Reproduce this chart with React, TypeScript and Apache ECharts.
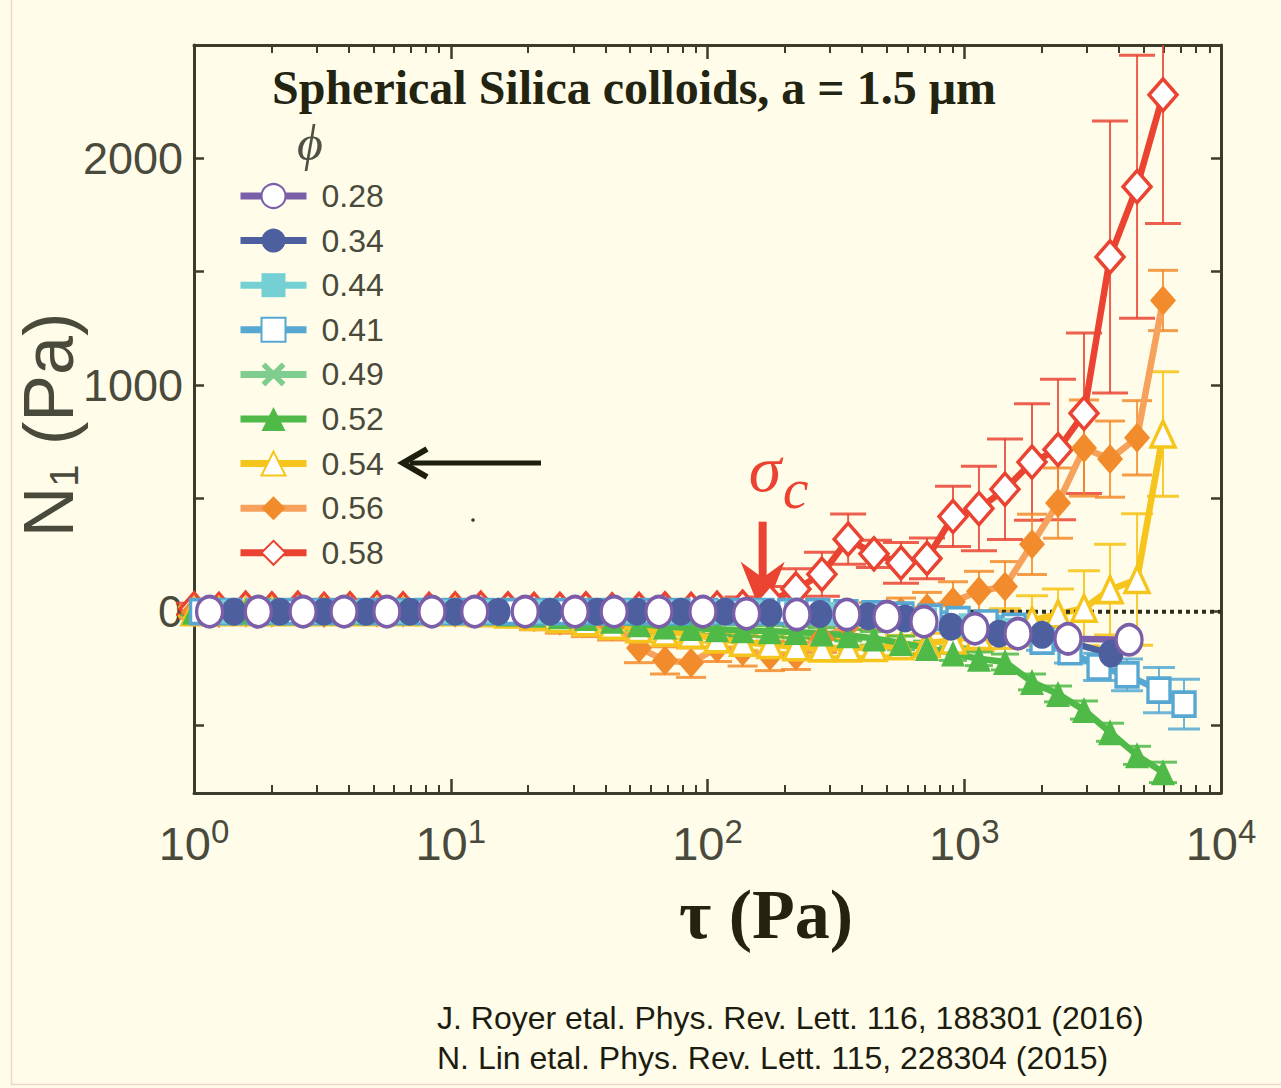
import React, { useEffect, useRef } from "react";
import * as echarts from "echarts";

// Shear stress (Pa) of the fine sweep used for phi = 0.52 ... 0.58
const stressFine = [1.0, 1.25, 1.59, 2.01, 2.54, 3.21, 4.05, 5.16, 6.52, 8.23, 10.4, 13.1, 16.7, 21.1, 26.6, 33.6, 42.5, 54.1, 68.3, 86.3, 109, 137, 175, 221, 279, 353, 445, 567, 716, 904, 1141, 1441, 1836, 2319, 2927, 3697, 4710, 5945];

// phi = 0.58 (open diamonds)
const n58 = [12, 10, 15, 12, 15, 10, 12, 15, 12, 10, 12, 15, 12, 10, 10, 12, 8, 10, 12, 10, 15, 20, 45, 100, 165, 320, 255, 215, 235, 420, 455, 540, 660, 715, 875, 1565, 1875, 2280];
const e58 = [25, 25, 25, 25, 25, 25, 25, 25, 30, 30, 30, 30, 30, 30, 35, 35, 35, 35, 35, 40, 40, 45, 66, 89, 97, 111, 60, 90, 90, 133, 186, 222, 257, 310, 354, 600, 580, 567];

// phi = 0.56 (filled diamonds)
const n56 = [0, 0, -5, 0, -5, 0, -5, -5, 0, -5, -5, -5, -10, -25, -40, -50, -65, -160, -215, -225, -160, -175, -195, -195, -120, -60, -20, 0, 15, 44, 90, 111, 297, 479, 722, 673, 767, 1373];
const e56 = [30, 30, 30, 35, 30, 35, 35, 40, 35, 40, 45, 45, 50, 55, 55, 60, 60, 65, 60, 65, 60, 65, 65, 60, 60, 60, 60, 60, 70, 88, 88, 110, 133, 155, 212, 168, 164, 133];

// phi = 0.54 (open triangles)
const n54 = [0, 0, 0, 0, 0, 0, 0, 0, 0, 0, 0, -5, -10, -20, -30, -45, -60, -75, -90, -100, -120, -135, -145, -155, -160, -160, -158, -150, -140, -125, -105, -75, -40, -10, 15, 97, 142, 784];
const e54 = [20, 20, 20, 20, 20, 20, 20, 20, 20, 20, 20, 25, 25, 25, 25, 30, 30, 30, 30, 35, 35, 35, 35, 40, 40, 40, 40, 45, 45, 55, 66, 88, 110, 110, 165, 200, 290, 275];

// phi = 0.52 (filled triangles)
const n52 = [0, 0, 0, 0, 0, 0, 0, 0, 0, 0, 0, -3, -8, -14, -20, -28, -40, -55, -65, -72, -78, -82, -86, -90, -96, -104, -118, -138, -160, -185, -208, -222, -310, -363, -434, -532, -634, -709];
const e52 = [15, 15, 15, 15, 15, 15, 15, 15, 15, 15, 15, 20, 20, 20, 20, 25, 25, 25, 25, 25, 25, 25, 25, 25, 25, 25, 30, 30, 30, 30, 30, 35, 35, 35, 40, 40, 40, 45];

// phi = 0.49 (crosses)
const tau49 = [1.2, 1.85, 2.75, 4.0, 5.8, 8.7, 12.8, 20.1, 31.4, 44.6, 66.6, 98.9, 146, 230, 360];
const n49 = [0, 0, 0, 0, 0, 0, 0, 0, 0, -3, -6, -10, -15, -20, -25];

// phi = 0.41 (open squares)
const tau41 = [1.07, 1.38, 1.78, 2.28, 2.93, 3.77, 4.85, 6.23, 8.01, 10.3, 13.2, 17.0, 21.9, 28.1, 36.1, 46.4, 59.7, 76.7, 98.6, 127, 163, 209, 269, 346, 445, 572, 736, 946, 1216, 1563, 2009, 2582, 3350, 4305, 5733, 7178];
const n41 = [0, 0, 0, 0, 0, 0, 0, 0, 0, 0, 0, 0, 0, 0, 0, 0, 0, 0, 0, 0, 0, 0, 0, -5, -10, -15, -25, -35, -50, -65, -130, -177, -244, -279, -346, -408];
const e41 = [15, 15, 15, 15, 15, 15, 15, 15, 15, 15, 15, 15, 15, 15, 15, 15, 15, 15, 15, 15, 15, 15, 15, 15, 20, 20, 25, 30, 30, 35, 40, 50, 60, 70, 100, 110];

// phi = 0.44 (filled squares)
const tau44 = [1.3, 2.0, 3.0, 4.4, 6.5, 9.6, 14.2, 21.0, 31.0, 46.0, 68.0, 100, 148, 219, 324, 480, 710, 1050, 1550];
const n44 = [0, 0, 0, 0, 0, 0, 0, 0, 0, 0, 0, 0, 0, -5, -10, -20, -35, -60, -80];

// phi = 0.34 (filled circles)
const tau34 = [1.43, 2.16, 3.21, 4.68, 6.94, 10.4, 15.3, 24.4, 37.1, 53.1, 78.9, 117, 175, 274, 422, 588, 888, 1366, 2009, 3729];
const n34 = [0, 0, 0, 0, 0, 0, 0, 0, 0, 0, 0, 0, -5, -10, -20, -30, -66, -97, -102, -185];

// phi = 0.28 (open circles)
const tau28 = [1.15, 1.78, 2.66, 3.84, 5.64, 8.45, 12.4, 19.5, 30.5, 43.3, 64.7, 96.0, 142, 223, 349, 500, 697, 1101, 1619, 2535, 4385];
const n28 = [0, 0, 0, 0, 0, 0, 0, 0, 0, 0, 0, 0, -9, -13, -13, -22, -44, -75, -97, -120, -124];

const legendOrder = ["0.28", "0.34", "0.44", "0.41", "0.49", "0.52", "0.54", "0.56", "0.58"];
const xMajorLabels = [1, 10, 100, 1000, 10000];
const xMinorTicks = [2, 3, 4, 5, 6, 7, 8, 9, 20, 30, 40, 50, 60, 70, 80, 90, 200, 300, 400, 500, 600, 700, 800, 900, 2000, 3000, 4000, 5000, 6000, 7000, 8000, 9000];
const yLabelValues = [0, 1000, 2000];
const yTickValues = [-500, 0, 500, 1000, 1500, 2000];
const Y_MIN = -800;
const Y_MAX = 2500;
const sigmaC = 164; // onset stress marked with the arrow

const purple = "#7b5ea8";
const navy = "#4d5f9f";
const cyan = "#74d0d2";
const sky = "#56a8d2";
const mint = "#80cd90";
const green = "#4fba48";
const yellow = "#f6c51d";
const orange = "#f28b2b";
const orangeLine = "#f6a25c";
const red = "#ea4332";
const ink = "#4a4a3c";
const axisInk = "#3c3c2c";
const bg = "#fffde9";

const CROSS = "path://M0,1.6L1.6,0L5,3.4L8.4,0L10,1.6L6.6,5L10,8.4L8.4,10L5,6.6L1.6,10L0,8.4L3.4,5Z";

function lineSeries(name: string, tau: number[], n: number[], color: string, lineColor: string, symbol: string, size: number | number[], open: boolean) {
  return {
    name,
    type: "line",
    xAxisIndex: 0,
    yAxisIndex: 0,
    data: tau.map((t, i) => [t, n[i]]),
    symbol,
    symbolSize: size,
    lineStyle: { color: lineColor, width: 6.5 },
    itemStyle: open
      ? { color: "#ffffff", borderColor: color, borderWidth: 3.5 }
      : { color, borderWidth: 0 },
    emphasis: { disabled: true },
  };
}

function errorBars(color: string, capHalf: number, tau: number[], n: number[], err: number[]) {
  return {
    type: "custom",
    xAxisIndex: 0,
    yAxisIndex: 0,
    silent: true,
    data: tau.map((t, i) => [t, n[i] - err[i], n[i] + err[i]]),
    encode: { x: 0, y: [1, 2] },
    renderItem: (_p: any, api: any) => {
      const t = api.value(0);
      const lo = api.value(1);
      const hi = api.value(2);
      const a = api.coord([t, Math.min(hi, Y_MAX)]);
      const b = api.coord([t, Math.max(lo, Y_MIN)]);
      const kids: any[] = [
        { type: "line", shape: { x1: a[0], y1: a[1], x2: b[0], y2: b[1] }, style: { stroke: color, lineWidth: 2 } },
      ];
      if (hi <= Y_MAX) kids.push({ type: "line", shape: { x1: a[0] - capHalf, y1: a[1], x2: a[0] + capHalf, y2: a[1] }, style: { stroke: color, lineWidth: 3 } });
      if (lo >= Y_MIN) kids.push({ type: "line", shape: { x1: b[0] - capHalf, y1: b[1], x2: b[0] + capHalf, y2: b[1] }, style: { stroke: color, lineWidth: 3 } });
      return { type: "group", children: kids };
    },
  };
}

const sans = "'Liberation Sans', Arial, sans-serif";
const serif = "'Liberation Serif', 'Times New Roman', serif";

function buildOption() {
  const gridBox = { left: 194, top: 45, width: 1027, height: 748 };
  const logAxis = { type: "log", logBase: 10, min: 1, max: 10000, splitLine: { show: false } };
  const valAxis = { type: "value", min: Y_MIN, max: Y_MAX, splitLine: { show: false } };
  const line = { show: true, onZero: false, lineStyle: { color: axisInk, width: 3 } };
  const noLine = { show: false, onZero: false };
  return {
    animation: false,
    backgroundColor: bg,
    title: {
      text: "Spherical Silica colloids, a = 1.5 \u03bcm",
      left: 272,
      top: 63,
      padding: 0,
      textStyle: { fontFamily: serif, fontWeight: "bold", fontSize: 48, color: "#232312" },
    },
    legend: {
      data: legendOrder,
      orient: "vertical",
      left: 237,
      top: 180,
      padding: 0,
      itemWidth: 66,
      itemHeight: 30,
      itemGap: 12.6,
      selectedMode: false,
      lineStyle: { width: 7 },
      textStyle: { fontFamily: sans, fontSize: 32, color: ink, padding: [0, 0, 0, 10] },
    },
    grid: [gridBox, gridBox],
    xAxis: [
      {
        ...logAxis, gridIndex: 0, position: "bottom", axisLine: line,
        axisTick: { show: true, inside: true, length: 8, customValues: xMinorTicks, lineStyle: { color: axisInk, width: 2 } },
        axisLabel: {
          show: true, margin: 22, customValues: xMajorLabels,
          formatter: (v: number) => `{b|10}{s|${Math.round(Math.log10(v))}}`,
          rich: {
            b: { fontFamily: sans, fontSize: 47, color: ink, lineHeight: 52, verticalAlign: "bottom" },
            s: { fontFamily: sans, fontSize: 33, color: ink, lineHeight: 42, verticalAlign: "top" },
          },
        },
      },
      {
        ...logAxis, gridIndex: 0, position: "top", axisLine: line,
        axisTick: { show: true, inside: true, length: 8, customValues: xMinorTicks, lineStyle: { color: axisInk, width: 2 } },
        axisLabel: { show: false },
      },
      {
        ...logAxis, gridIndex: 1, position: "bottom", axisLine: noLine,
        axisTick: { show: true, inside: true, length: 14, customValues: xMajorLabels, lineStyle: { color: axisInk, width: 2.5 } },
        axisLabel: { show: false },
      },
      {
        ...logAxis, gridIndex: 1, position: "top", axisLine: noLine,
        axisTick: { show: true, inside: true, length: 14, customValues: xMajorLabels, lineStyle: { color: axisInk, width: 2.5 } },
        axisLabel: { show: false },
      },
    ],
    yAxis: [
      {
        ...valAxis, gridIndex: 0, position: "left", axisLine: line,
        axisTick: { show: true, inside: true, length: 10, customValues: yTickValues, lineStyle: { color: axisInk, width: 2.5 } },
        axisLabel: { show: true, margin: 11, customValues: yLabelValues, formatter: (v: number) => String(v), fontFamily: sans, fontSize: 45, color: ink },
      },
      {
        ...valAxis, gridIndex: 0, position: "right", axisLine: line,
        axisTick: { show: true, inside: true, length: 10, customValues: yTickValues, lineStyle: { color: axisInk, width: 2.5 } },
        axisLabel: { show: false },
      },
      { ...valAxis, gridIndex: 1, show: false, axisLine: noLine },
    ],
    series: [
      errorBars("rgba(234,67,50,0.85)", 18, stressFine, n58, e58),
      lineSeries("0.58", stressFine, n58, red, red, "diamond", [28, 32], true),
      errorBars("rgba(242,139,43,0.85)", 15, stressFine, n56, e56),
      lineSeries("0.56", stressFine, n56, orange, orangeLine, "diamond", [26, 30], false),
      errorBars("rgba(246,197,29,0.9)", 16, stressFine, n54, e54),
      lineSeries("0.54", stressFine, n54, yellow, yellow, "triangle", [24, 26], true),
      {
        type: "line", xAxisIndex: 0, yAxisIndex: 0, silent: true, symbol: "none",
        data: [[1, 0], [10000, 0]],
        lineStyle: { color: "#2d2d20", width: 4, type: [4, 4] },
      },
      errorBars("rgba(79,186,72,0.85)", 14, stressFine, n52, e52),
      lineSeries("0.52", stressFine, n52, green, green, "triangle", [24, 26], false),
      lineSeries("0.49", tau49, n49, mint, mint, CROSS, 18, false),
      errorBars("rgba(86,168,210,0.85)", 16, tau41, n41, e41),
      lineSeries("0.41", tau41, n41, sky, sky, "rect", [22, 24], true),
      lineSeries("0.44", tau44, n44, cyan, cyan, "rect", [22, 24], false),
      lineSeries("0.34", tau34, n34, navy, navy, "circle", [25, 28], false),
      lineSeries("0.28", tau28, n28, purple, purple, "circle", [26, 30], true),
    ],
  };
}

export default function App() {
  const ref = useRef<HTMLDivElement>(null);
  useEffect(() => {
    if (!ref.current) return;
    const chart = echarts.init(ref.current, undefined, { renderer: "svg" });
    chart.setOption(buildOption() as any);
    const tip = chart.convertToPixel({ xAxisIndex: 0, yAxisIndex: 0 }, [sigmaC, 0]) as number[];
    const tx = tip[0];
    const ty = tip[1];
    const graphic: any[] = [
      { type: "rect", silent: true, shape: { x: 11.5, y: -5, width: 1275, height: 1089.5 }, style: { fill: "none", stroke: "#f1d5cd", lineWidth: 1.5 } },
      { type: "text", x: 297, y: 143, style: { text: "\u03d5", fontFamily: serif, fontStyle: "italic", fontSize: 50, fill: "#505044", align: "left", verticalAlign: "middle" } },
      // arrow pointing at the 0.54 entry
      { type: "line", shape: { x1: 410, y1: 463, x2: 541, y2: 463 }, style: { stroke: "#1e1e0e", lineWidth: 5 } },
      { type: "polyline", shape: { points: [[427, 449], [403, 463], [427, 477]] }, style: { stroke: "#1e1e0e", lineWidth: 6, fill: "none", lineJoin: "miter" } },
      { type: "circle", shape: { cx: 473, cy: 520, r: 1.8 }, style: { fill: "#3a3a2a" } },
      // onset stress marker
      { type: "rect", shape: { x: tx - 4, y: ty - 90, width: 8, height: 58 }, style: { fill: red } },
      { type: "polygon", shape: { points: [[tx, ty + 5], [tx - 22, ty - 50], [tx, ty - 34], [tx + 22, ty - 50]] }, style: { fill: red } },
      { type: "text", x: tx - 14, y: ty - 143, style: { text: "\u03c3", fontFamily: serif, fontStyle: "italic", fontSize: 66, fill: red, align: "left", verticalAlign: "middle" } },
      { type: "text", x: tx + 20, y: ty - 123, style: { text: "c", fontFamily: serif, fontStyle: "italic", fontSize: 58, fill: red, align: "left", verticalAlign: "middle" } },
      // axis titles
      { type: "text", x: 766, y: 914, style: { text: "\u03c4 (Pa)", fontFamily: serif, fontWeight: "bold", fontSize: 70, fill: "#23230f", align: "center", verticalAlign: "middle" } },
      {
        type: "text", x: 46, y: 425, rotation: Math.PI / 2,
        style: {
          text: "{n|N}{s|1}{n| (Pa)}", align: "center", verticalAlign: "middle",
          rich: {
            n: { fontFamily: sans, fontSize: 70, fill: ink, lineHeight: 76, verticalAlign: "bottom" },
            s: { fontFamily: sans, fontSize: 40, fill: ink, lineHeight: 52, verticalAlign: "bottom" },
          },
        },
      },
      // references
      { type: "text", x: 437, y: 1018, style: { text: "J. Royer etal. Phys. Rev. Lett. 116, 188301 (2016)", fontFamily: sans, fontSize: 32, fill: "#1c1c10", align: "left", verticalAlign: "middle" } },
      { type: "text", x: 437, y: 1058, style: { text: "N. Lin etal. Phys. Rev. Lett. 115, 228304 (2015)", fontFamily: sans, fontSize: 32, fill: "#1c1c10", align: "left", verticalAlign: "middle" } },
    ];
    chart.setOption({ graphic } as any);
    return () => chart.dispose();
  }, []);
  return <div ref={ref} style={{ position: "absolute", left: 0, top: 0, width: 1281, height: 1088 }} />;
}
